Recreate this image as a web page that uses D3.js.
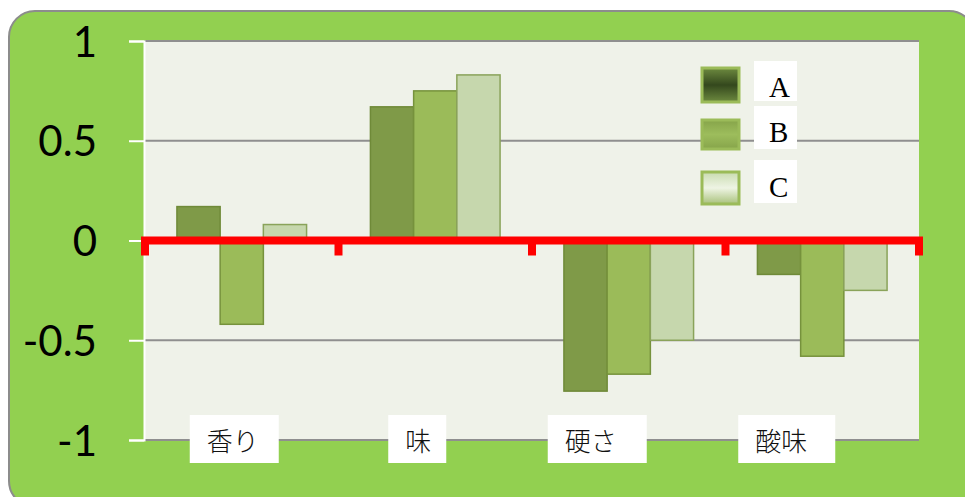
<!DOCTYPE html>
<html>
<head>
<meta charset="utf-8">
<script src="https://cdn.jsdelivr.net/npm/d3@7"></script>
<style>
  html, body { margin: 0; padding: 0; background: #ffffff; }
  svg { display: block; }
</style>
</head>
<body>
<svg id="chart"></svg>
<script>
// ---- data ----
const categories = ["香り", "味", "硬さ", "酸味"];
const seriesNames = ["A", "B", "C"];
const valuesA = [0.17, 0.67, -0.755, -0.17];
const valuesB = [-0.42, 0.75, -0.67, -0.58];
const valuesC = [0.08, 0.83, -0.50, -0.25];
const yTicks = [-1, -0.5, 0, 0.5, 1];

// ---- layout ----
const width = 965, height = 497;
const plot = { left: 145, right: 919, top: 41, bottom: 440 };

const fills = ["#7f9a48", "#9bbb59", "#c6d7ad"];
const strokes = ["#6f8a38", "#76923c", "#8aa35a"];
// label box offsets from band centre (the boxes sit a bit left of centre)
const labelOffsets = [-52, -47, -81, -84];
const labelBoxW = [89, 58, 99, 97];

const svg = d3.select("#chart").attr("width", width).attr("height", height);

// outer rounded green panel
svg.append("rect")
  .attr("x", 9).attr("y", 11)
  .attr("width", 966).attr("height", 496)
  .attr("rx", 26)
  .attr("fill", "#92d050")
  .attr("stroke", "#8c8c8c")
  .attr("stroke-width", 2);

const x = d3.scaleBand()
  .domain(categories)
  .range([plot.left, plot.right])
  .paddingInner(0.33)
  .paddingOuter(0.165);

const xInner = d3.scaleBand()
  .domain(seriesNames)
  .range([0, x.bandwidth()]);

const y = d3.scaleLinear()
  .domain([-1, 1])
  .range([plot.bottom, plot.top]);

// plot background
svg.append("rect")
  .attr("x", plot.left).attr("y", y(1))
  .attr("width", plot.right - plot.left)
  .attr("height", y(-1) - y(1))
  .attr("fill", "#eff2e9");

// gridlines
svg.append("g")
  .selectAll("line")
  .data(yTicks.filter(d => d !== 0))
  .join("line")
  .attr("x1", plot.left).attr("x2", plot.right)
  .attr("y1", d => y(d)).attr("y2", d => y(d))
  .attr("stroke", "#8f8f8f")
  .attr("stroke-width", 2);

// y axis (white)
const yAxis = svg.append("g")
  .attr("transform", `translate(${plot.left - 1},0)`)
  .call(d3.axisLeft(y).tickValues(yTicks).tickSize(15).tickPadding(32)
    .tickFormat(d => String(d)));
yAxis.select(".domain").attr("stroke", "#ffffff").attr("stroke-width", 2);
yAxis.selectAll(".tick line").attr("stroke", "#ffffff").attr("stroke-width", 2);
yAxis.selectAll(".tick text")
  .attr("fill", "#000")
  .attr("font-family", "Lato, 'Open Sans', sans-serif")
  .attr("font-size", 42)
  .attr("dy", "0.36em");

// bars
const series = [valuesA, valuesB, valuesC];
const barData = [];
series.forEach((vals, si) => {
  vals.forEach((v, ci) => barData.push({ cat: categories[ci], s: seriesNames[si], si, v }));
});

svg.append("g")
  .selectAll("rect")
  .data(barData)
  .join("rect")
  .attr("x", d => x(d.cat) + xInner(d.s))
  .attr("y", d => y(Math.max(0, d.v)))
  .attr("width", xInner.bandwidth())
  .attr("height", d => Math.abs(y(d.v) - y(0)))
  .attr("fill", d => fills[d.si])
  .attr("stroke", d => strokes[d.si])
  .attr("stroke-width", 1.5);

// red zero axis with ticks at band boundaries
const boundaries = d3.range(categories.length + 1).map(i => plot.left + i * x.step());
const zero = svg.append("g");
zero.append("line")
  .attr("x1", plot.left - 4).attr("x2", plot.right + 4)
  .attr("y1", y(0)).attr("y2", y(0))
  .attr("stroke", "#ff0000")
  .attr("stroke-width", 8);
zero.selectAll("rect")
  .data(boundaries)
  .join("rect")
  .attr("x", d => d - 4)
  .attr("y", y(0))
  .attr("width", 8)
  .attr("height", 15)
  .attr("fill", "#ff0000");

// category labels in white boxes
const labels = svg.append("g");
categories.forEach((c, i) => {
  const cx = x(c) + x.bandwidth() / 2 + labelOffsets[i];
  labels.append("rect")
    .attr("x", cx).attr("y", 415)
    .attr("width", labelBoxW[i]).attr("height", 48)
    .attr("fill", "#ffffff");
  labels.append("text")
    .attr("x", cx + 17).attr("y", 451)
    .attr("font-family", "'Noto Sans CJK JP', sans-serif")
    .attr("font-size", 26)
    .attr("font-weight", 300)
    .attr("fill", "#111")
    .text(c);
});

// legend
const defs = svg.append("defs");
const grads = [
  ["#6d8a3f", "#34481d", "#6d8a3f"],
  ["#86a44a", "#9dbd5c", "#86a44a"],
  ["#c9dbb0", "#eef4e4", "#a9c27c"]
];
grads.forEach((g, i) => {
  const lg = defs.append("linearGradient")
    .attr("id", "lg" + i).attr("x1", 0).attr("y1", 0).attr("x2", 0).attr("y2", 1);
  lg.append("stop").attr("offset", "0%").attr("stop-color", g[0]);
  lg.append("stop").attr("offset", "50%").attr("stop-color", g[1]);
  lg.append("stop").attr("offset", "100%").attr("stop-color", g[2]);
});

const legendRows = [
  { sy: 68, sh: 34, by: 61, bh: 40, ty: 97 },
  { sy: 120, sh: 29, by: 106, bh: 43, ty: 142 },
  { sy: 172, sh: 32, by: 160, bh: 43, ty: 197 }
];
const legend = svg.append("g");
seriesNames.forEach((s, i) => {
  const r = legendRows[i];
  legend.append("rect")
    .attr("x", 702).attr("y", r.sy)
    .attr("width", 37).attr("height", r.sh)
    .attr("fill", `url(#lg${i})`)
    .attr("stroke", "#9bbb59")
    .attr("stroke-width", 3);
  legend.append("rect")
    .attr("x", 754).attr("y", r.by)
    .attr("width", 43).attr("height", r.bh)
    .attr("fill", "#ffffff");
  legend.append("text")
    .attr("x", 769).attr("y", r.ty)
    .attr("font-family", "'Liberation Serif', 'DejaVu Serif', serif")
    .attr("font-size", 29)
    .attr("fill", "#000")
    .text(s);
});
</script>
</body>
</html>
